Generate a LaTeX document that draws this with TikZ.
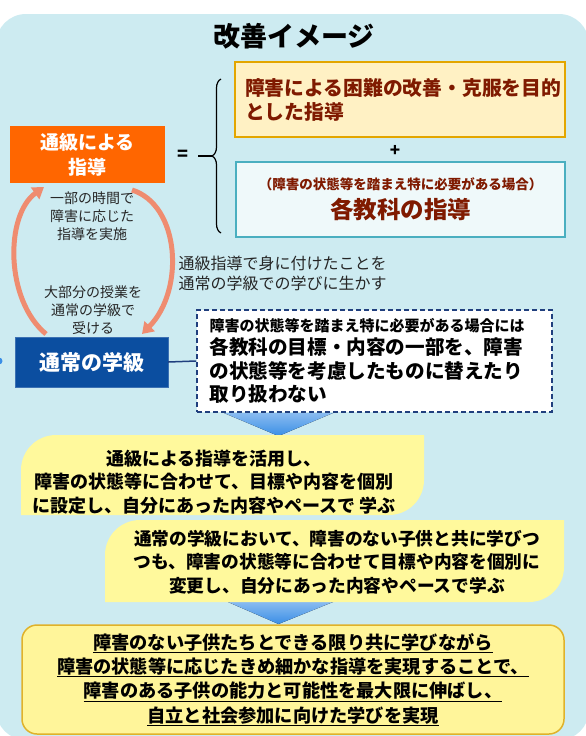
\documentclass[tikz,border=0pt]{standalone}
\usepackage{fontspec}
\setmainfont{Noto Sans CJK JP}
\usetikzlibrary{arrows.meta,positioning,decorations.pathreplacing,calc}
\definecolor{bgblue}{HTML}{CDEBF1}
\definecolor{tsukyu}{HTML}{FF6600}
\definecolor{tsujo}{HTML}{0B4EA0}
\definecolor{darkred}{HTML}{7F1A00}
\definecolor{goldline}{HTML}{E3A600}
\definecolor{paleyellow}{HTML}{FFF1C4}
\definecolor{tealline}{HTML}{4AAFC0}
\definecolor{palecyan}{HTML}{EFF9FA}
\definecolor{navy}{HTML}{203F7E}
\definecolor{leafyellow}{HTML}{FFF99C}
\definecolor{resultyellow}{HTML}{FFF59A}
\definecolor{resultline}{HTML}{E0B22A}
\definecolor{salmon}{HTML}{EF8C70}
\definecolor{arrowblue}{HTML}{3A8EE6}
\tikzset{
  bgpanel/.style={fill=bgblue, rounded corners=30pt},
  headline/.style={font=\bfseries\fontsize{27}{30}\selectfont},
  goalbox/.style={draw=goldline, line width=2pt, fill=paleyellow,
    minimum width=330pt, minimum height=75pt, text=darkred, text width=310pt,
    align=left, font=\bfseries\fontsize{19.8}{24}\selectfont},
  subjectbox/.style={draw=tealline, line width=2pt, fill=palecyan,
    minimum width=329pt, minimum height=75pt, text=darkred, align=center,
    font=\bfseries\fontsize{23.5}{28.5}\selectfont},
  orangebox/.style={fill=tsukyu, minimum width=155pt, minimum height=57pt,
    text=white, align=center, font=\bfseries\fontsize{19}{25}\selectfont},
  bluebox/.style={fill=tsujo, draw=tsujo!80!white, minimum width=153pt,
    minimum height=50pt, text=white, font=\bfseries\fontsize{21}{25}\selectfont},
  note/.style={align=center, text=black!85, font=\fontsize{14}{18}\selectfont},
  dashbox/.style={draw=navy, line width=1.6pt, dash pattern=on 5pt off 3pt,
    fill=white, minimum width=355pt, minimum height=102pt, text width=330pt,
    align=left, font=\bfseries\fontsize{19.6}{23.3}\selectfont},
  cyclearr/.style={-{Triangle[width=14pt,length=11pt]}, line width=5pt, draw=salmon},
  linkline/.style={draw=navy, line width=1.5pt},
  downtri/.style={top color=arrowblue!60, bottom color=arrowblue, draw=none},
  leaf/.style={fill=leafyellow},
  leaftext/.style={align=center, font=\bfseries\fontsize{18}{23.5}\selectfont},
  resultbox/.style={draw=resultline, line width=1.5pt, fill=resultyellow,
    rounded corners=15pt, minimum width=542pt, minimum height=109pt,
    align=center, font=\bfseries\fontsize{18.2}{24.3}\selectfont}
}
\begin{document}
\begin{tikzpicture}[x=1pt, y=-1pt]
    \useasboundingbox (0,0) rectangle (586,736);
    \fill[bgpanel] (-4,14) rectangle (589,740);
    \node[headline] (title) at (294,36) {改善イメージ};

    \node[goalbox] (goal) at (400,99.5) {障害による困難の改善・克服を目的\\とした指導};
    \node[subjectbox] (subject) at (400.5,199.5)
      {{\fontsize{13.5}{16}\selectfont （障害の状態等を踏まえ特に必要がある場合）}\\各教科の指導};
    \node[font=\bfseries\fontsize{17}{20}\selectfont] (plus) at (395,151) {+};
    \draw[line width=1.2pt, decorate, decoration={brace, amplitude=9pt}]
      (221,233) -- (221,79) coordinate[midway, xshift=-9pt] (bracetip);
    \coordinate (eqend) at (198,156);
    \draw[line width=1.2pt] (eqend) -- (bracetip);
    \node[font=\bfseries\fontsize{18}{20}\selectfont] (equals) at (183,155) {=};

    \node[orangebox] (tsukyu) at (87.5,154.5) {通級による\\指導};
    \node[bluebox] (tsujo) at (91.5,362) {通常の学級};
    \node[circle, fill=arrowblue, inner sep=0pt, minimum size=7pt] (edgedot) at (-1,361) {};
    \node[note] (partial) at (92,216) {一部の時間で\\障害に応じた\\指導を実施};
    \node[note] (most) at (93,310) {大部分の授業を\\通常の学級で\\受ける};
    \draw[cyclearr] (46,334) .. controls (5,300) and (5,215) .. (44,187);
    \draw[cyclearr] (132,190) .. controls (180,205) and (185,290) .. (142,334);

    \node[anchor=west, align=left, text=black!85, font=\fontsize{16}{20}\selectfont]
      (apply) at (175,273) {通級指導で身に付けたことを\\通常の学級での学びに生かす};

    \node[dashbox] (detail) at (374.5,361)
      {{\fontsize{15}{18}\selectfont 障害の状態等を踏まえ特に必要がある場合には}\\各教科の目標・内容の一部を、障害\\の状態等を考慮したものに替えたり\\取り扱わない};
    \draw[linkline] (tsujo.east) -- (detail.west);

    \fill[downtri] (224,413) -- (333,413) -- (278.5,436) -- cycle;
    \fill[downtri] (228,602) -- (333,602) -- (278.5,624) -- cycle;

    \fill[leaf] (21,515) -- (21,470) arc[start angle=180, end angle=90, radius=35pt]
      -- (424,435) -- (424,480) arc[start angle=0, end angle=-90, radius=35pt] -- cycle;
    \node[leaftext] (resource) at (214,482)
      {通級による指導を活用し、\\障害の状態等に合わせて、目標や内容を個別\\に設定し、自分にあった内容やペースで 学ぶ};
    \fill[leaf] (105,602) -- (105,555) arc[start angle=180, end angle=90, radius=35pt]
      -- (564,520) -- (564,567) arc[start angle=0, end angle=-90, radius=35pt] -- cycle;
    \node[leaftext, font=\bfseries\fontsize{17.7}{23.5}\selectfont] (together) at (337,562)
      {通常の学級において、障害のない子供と共に学びつ\\つも、障害の状態等に合わせて目標や内容を個別に\\変更し、自分にあった内容やペースで学ぶ};

    \node[resultbox] (result) at (293,679.5)
      {\underline{障害のない子供たちとできる限り共に学びながら}\\
       \underline{障害の状態等に応じたきめ細かな指導を実現することで、}\\
       \underline{障害のある子供の能力と可能性を最大限に伸ばし、}\\
       \underline{自立と社会参加に向けた学びを実現}};
  \end{tikzpicture}
\end{document}
